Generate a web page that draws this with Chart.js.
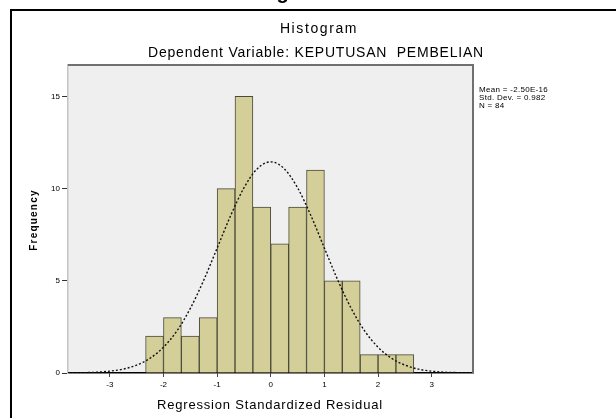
<!DOCTYPE html>
<html>
<head>
<meta charset="utf-8">
<script src="https://cdn.jsdelivr.net/npm/chart.js@4.4.1/dist/chart.umd.min.js"></script>
<style>
  html, body { margin: 0; padding: 0; background: #ffffff; }
  #wrap { width: 616px; height: 418px; position: relative; }
</style>
</head>
<body>
<div id="wrap"><canvas id="c" width="616" height="418"></canvas></div>
<script>
// ---- data ----
const binCenters = [-2.1667, -1.8333, -1.5, -1.1667, -0.8333, -0.5, -0.1667, 0.1667, 0.5, 0.8333, 1.1667, 1.5, 1.8333, 2.1667, 2.5];
const frequencies = [2, 3, 2, 3, 10, 15, 9, 7, 9, 11, 5, 5, 1, 1, 1];
const curveX = [-3.78, -3.5, -3.25, -3, -2.75, -2.5, -2.25, -2, -1.75, -1.5, -1.25, -1, -0.75, -0.5, -0.25, 0, 0.25, 0.5, 0.75, 1, 1.25, 1.5, 1.75, 2, 2.25, 2.5, 2.75, 3, 3.25, 3.5, 3.77];
const curveY = [0.01, 0.02, 0.04, 0.10, 0.21, 0.43, 0.80, 1.40, 2.28, 3.50, 5.03, 6.77, 8.52, 10.04, 11.08, 11.45, 11.08, 10.04, 8.52, 6.77, 5.03, 3.50, 2.28, 1.40, 0.80, 0.43, 0.21, 0.10, 0.04, 0.02, 0.01];
const xTicks = [-3, -2, -1, 0, 1, 2, 3];
const yTicks = [0, 5, 10, 15];
const titleText = 'Histogram';
const subtitleText = 'Dependent Variable: KEPUTUSAN  PEMBELIAN';
const xTitle = 'Regression Standardized Residual';
const yTitle = 'Frequency';
const statsLines = ['Mean = -2.50E-16', 'Std. Dev. = 0.982', 'N = 84'];

const FONT = '"Liberation Sans", Arial, sans-serif';

const decor = {
  id: 'decor',
  beforeDraw(chart) {
    const ctx = chart.ctx, a = chart.chartArea;
    ctx.save();
    ctx.fillStyle = '#ffffff';
    ctx.fillRect(0, 0, chart.width, chart.height);
    ctx.fillStyle = '#efefef';
    ctx.fillRect(a.left, a.top, a.right - a.left, a.bottom - a.top);
    ctx.restore();
  },
  afterDraw(chart) {
    const ctx = chart.ctx, a = chart.chartArea;
    ctx.save();
    // plot frame
    ctx.strokeStyle = '#707070';
    ctx.lineWidth = 2;
    ctx.beginPath();
    ctx.moveTo(a.left, a.top);
    ctx.lineTo(a.right, a.top);
    ctx.lineTo(a.right, a.bottom);
    ctx.stroke();
    // outer box
    ctx.strokeStyle = '#000000';
    ctx.lineWidth = 2;
    ctx.beginPath();
    ctx.moveTo(11, chart.height + 5);
    ctx.lineTo(11, 10);
    ctx.lineTo(chart.width + 5, 10);
    ctx.stroke();
    // clipped heading above box
    ctx.fillStyle = '#000';
    ctx.font = 'bold 20px ' + FONT;
    ctx.textAlign = 'center';
    ctx.textBaseline = 'alphabetic';
    ctx.fillText(titleText, 276, -1);
    // titles
    ctx.textBaseline = 'middle';
    ctx.save();
    ctx.font = '14px ' + FONT;
    ctx.letterSpacing = '1.6px';
    ctx.fillText(titleText, 319, 29);
    ctx.restore();
    ctx.save();
    ctx.font = '14px ' + FONT;
    ctx.letterSpacing = '0.8px';
    ctx.fillText(subtitleText, 316, 53);
    ctx.restore();
    // axis titles
    ctx.save();
    ctx.font = '13px ' + FONT;
    ctx.letterSpacing = '0.8px';
    ctx.fillText(xTitle, 270, 405);
    ctx.restore();
    ctx.save();
    ctx.translate(34, 220);
    ctx.rotate(-Math.PI / 2);
    ctx.font = 'bold 10px ' + FONT;
    ctx.letterSpacing = '1.2px';
    ctx.fillText(yTitle, 0, 0);
    ctx.restore();
    // stats
    ctx.font = '8px ' + FONT;
    ctx.textAlign = 'left';
    ctx.save();
    ctx.letterSpacing = '0.3px';
    statsLines.forEach((s, i) => ctx.fillText(s, 479, 90 + i * 8));
    ctx.restore();
    ctx.restore();
  }
};

new Chart(document.getElementById('c'), {
  type: 'bar',
  data: {
    datasets: [
      {
        type: 'line',
        data: curveX.map((x, i) => ({ x: x, y: curveY[i] })),
        borderColor: '#111111',
        borderWidth: 1.4,
        borderDash: [2, 2],
        pointRadius: 0,
        fill: false,
        tension: 0.4,
        cubicInterpolationMode: 'monotone',
        order: 0
      },
      {
        type: 'bar',
        data: binCenters.map((x, i) => ({ x: x, y: frequencies[i] })),
        backgroundColor: '#d4cf98',
        borderColor: '#4a4a3a',
        borderWidth: 1,
        barPercentage: 1,
        categoryPercentage: 1,
        grouped: false,
        order: 1
      }
    ]
  },
  options: {
    responsive: false,
    animation: false,
    events: [],
    layout: { padding: { top: 65, right: 143, left: 0, bottom: 0 } },
    plugins: { legend: { display: false }, tooltip: { enabled: false }, title: { display: false } },
    scales: {
      x: {
        type: 'linear',
        offset: false,
        min: -3.78,
        max: 3.77,
        afterBuildTicks(s) { s.ticks = xTicks.map(v => ({ value: v })); },
        afterFit(s) { s.height = 45; },
        grid: { display: true, offset: false, drawOnChartArea: false, drawTicks: true, tickLength: 4, color: '#000', tickColor: '#444' },
        border: { display: true, color: '#000', width: 1.5 },
        ticks: { color: '#000', font: { family: FONT, size: 8 }, padding: 3, maxRotation: 0, autoSkip: false,
                 callback: v => String(v) }
      },
      y: {
        min: 0,
        max: 16.7,
        afterBuildTicks(s) { s.ticks = yTicks.map(v => ({ value: v })); },
        afterFit(s) { s.width = 68; },
        grid: { display: true, drawOnChartArea: false, drawTicks: true, tickLength: 6, color: '#000', tickColor: '#333' },
        border: { display: true, color: '#c4c4c4', width: 1.5 },
        ticks: { color: '#000', font: { family: FONT, size: 8 }, padding: 2, autoSkip: false,
                 callback: v => String(v) }
      }
    }
  },
  plugins: [decor]
});
</script>
</body>
</html>
